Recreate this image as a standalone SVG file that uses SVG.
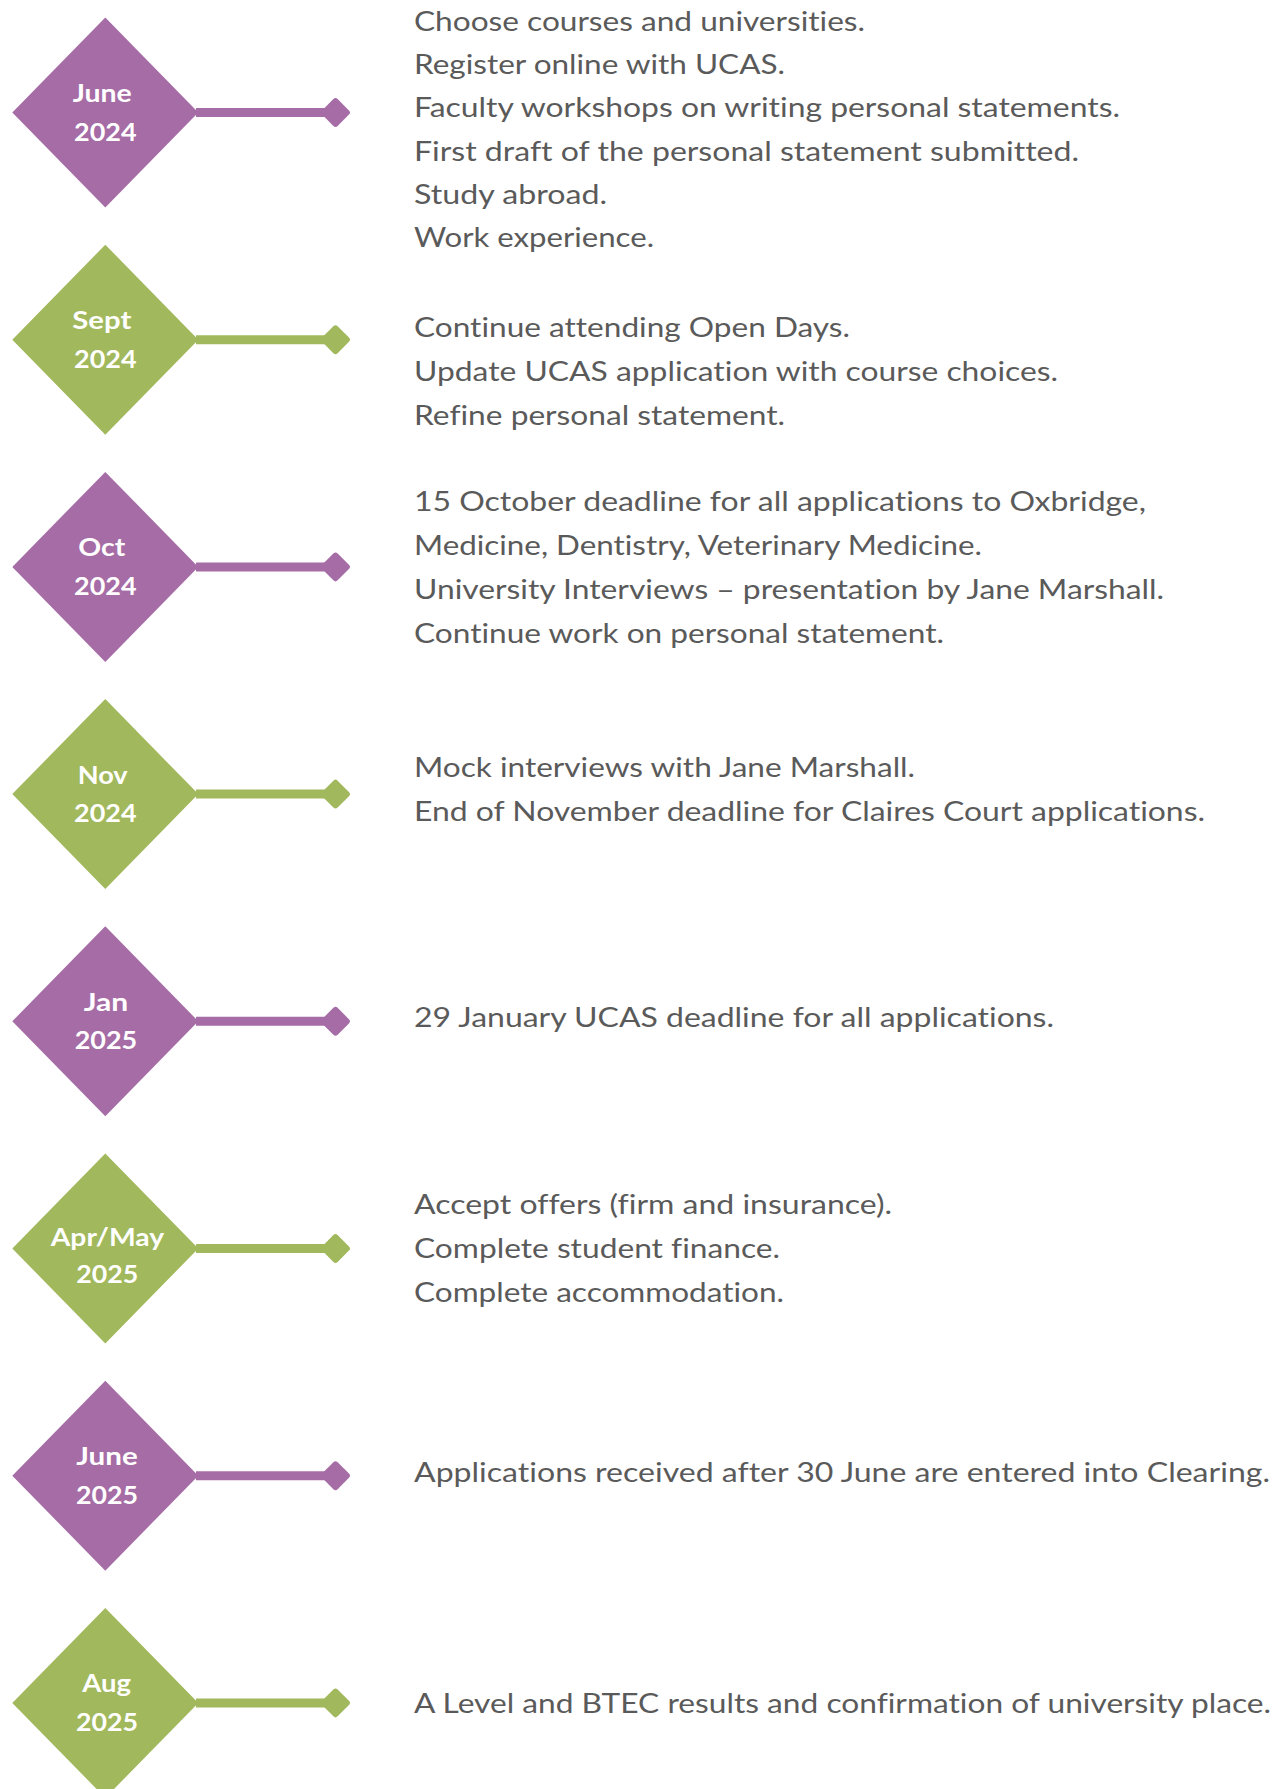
<svg xmlns="http://www.w3.org/2000/svg" width="1276" height="1789" viewBox="0 0 1276 1789">
<style>
.bg{fill:#ffffff}
.p{fill:#a66ca6}
.g{fill:#a2b85c}
.lp{stroke:#a66ca6;stroke-width:9;fill:none}
.lg{stroke:#a2b85c;stroke-width:9;fill:none}
.lbl{font-family:Lato,"Liberation Sans",sans-serif;font-weight:700;font-size:25px;fill:#ffffff;text-anchor:middle;font-variant-ligatures:none}
.t{font-family:Lato,"Liberation Sans",sans-serif;font-weight:400;font-size:27px;fill:#5a5a5a;font-variant-ligatures:none}
</style>
<defs>
<polygon id="dia" points="0,-95 93,0 0,95 -93,0"/>
<rect id="end" x="-11" y="-11" width="22" height="22" rx="3" transform="rotate(45)"/>
</defs>
<rect class="bg" x="0" y="0" width="1276" height="1789"/>
<g id="connectors">
<path class="lp" d="M196 112.5H334"/><use href="#end" class="p" x="335.5" y="112.5"/>
<path class="lg" d="M196 339.7H334"/><use href="#end" class="g" x="335.5" y="339.7"/>
<path class="lp" d="M196 566.9H334"/><use href="#end" class="p" x="335.5" y="566.9"/>
<path class="lg" d="M196 794.1H334"/><use href="#end" class="g" x="335.5" y="794.1"/>
<path class="lp" d="M196 1021.3H334"/><use href="#end" class="p" x="335.5" y="1021.3"/>
<path class="lg" d="M196 1248.5H334"/><use href="#end" class="g" x="335.5" y="1248.5"/>
<path class="lp" d="M196 1475.7H334"/><use href="#end" class="p" x="335.5" y="1475.7"/>
<path class="lg" d="M196 1702.9H334"/><use href="#end" class="g" x="335.5" y="1702.9"/>
</g>
<g id="node-june-2024">
<use href="#dia" class="p" x="105.3" y="112.5"/>
<text class="lbl" x="102.3" y="102" textLength="59" lengthAdjust="spacingAndGlyphs">June</text>
<text class="lbl" x="105.3" y="140.5" textLength="62.5" lengthAdjust="spacingAndGlyphs">2024</text>
<text class="t" x="414" y="31" textLength="451" lengthAdjust="spacingAndGlyphs">Choose courses and universities.</text>
<text class="t" x="414" y="74" textLength="371" lengthAdjust="spacingAndGlyphs">Register online with UCAS.</text>
<text class="t" x="414" y="117.3" textLength="706" lengthAdjust="spacingAndGlyphs">Faculty workshops on writing personal statements.</text>
<text class="t" x="414" y="160.5" textLength="665" lengthAdjust="spacingAndGlyphs">First draft of the personal statement submitted.</text>
<text class="t" x="414" y="203.5" textLength="193" lengthAdjust="spacingAndGlyphs">Study abroad.</text>
<text class="t" x="414" y="246.7" textLength="240" lengthAdjust="spacingAndGlyphs">Work experience.</text>
</g>
<g id="node-sept-2024">
<use href="#dia" class="g" x="105.3" y="339.7"/>
<text class="lbl" x="101.8" y="329" textLength="59" lengthAdjust="spacingAndGlyphs">Sept</text>
<text class="lbl" x="105.3" y="367.5" textLength="62.5" lengthAdjust="spacingAndGlyphs">2024</text>
<text class="t" x="414" y="336.7" textLength="436" lengthAdjust="spacingAndGlyphs">Continue attending Open Days.</text>
<text class="t" x="414" y="380.7" textLength="644" lengthAdjust="spacingAndGlyphs">Update UCAS application with course choices.</text>
<text class="t" x="414" y="425" textLength="371" lengthAdjust="spacingAndGlyphs">Refine personal statement.</text>
</g>
<g id="node-oct-2024">
<use href="#dia" class="p" x="105.3" y="566.9"/>
<text class="lbl" x="101.8" y="556.4" textLength="47" lengthAdjust="spacingAndGlyphs">Oct</text>
<text class="lbl" x="105.3" y="594.9" textLength="62.5" lengthAdjust="spacingAndGlyphs">2024</text>
<text class="t" x="414" y="511" textLength="732" lengthAdjust="spacingAndGlyphs">15 October deadline for all applications to Oxbridge,</text>
<text class="t" x="414" y="555" textLength="568" lengthAdjust="spacingAndGlyphs">Medicine, Dentistry, Veterinary Medicine.</text>
<text class="t" x="414" y="599" textLength="750" lengthAdjust="spacingAndGlyphs">University Interviews – presentation by Jane Marshall.</text>
<text class="t" x="414" y="642.7" textLength="530" lengthAdjust="spacingAndGlyphs">Continue work on personal statement.</text>
</g>
<g id="node-nov-2024">
<use href="#dia" class="g" x="105.3" y="794.1"/>
<text class="lbl" x="102.7" y="783.6" textLength="50" lengthAdjust="spacingAndGlyphs">Nov</text>
<text class="lbl" x="105.3" y="822.1" textLength="62.5" lengthAdjust="spacingAndGlyphs">2024</text>
<text class="t" x="414" y="776.7" textLength="501" lengthAdjust="spacingAndGlyphs">Mock interviews with Jane Marshall.</text>
<text class="t" x="414" y="821" textLength="791" lengthAdjust="spacingAndGlyphs">End of November deadline for Claires Court applications.</text>
</g>
<g id="node-jan-2025">
<use href="#dia" class="p" x="105.3" y="1021.3"/>
<text class="lbl" x="106" y="1010.8" textLength="44.5" lengthAdjust="spacingAndGlyphs">Jan</text>
<text class="lbl" x="106" y="1049.3" textLength="62.5" lengthAdjust="spacingAndGlyphs">2025</text>
<text class="t" x="414" y="1027" textLength="640" lengthAdjust="spacingAndGlyphs">29 January UCAS deadline for all applications.</text>
</g>
<g id="node-aprmay-2025">
<use href="#dia" class="g" x="105.3" y="1248.5"/>
<text class="lbl" x="107.5" y="1246" textLength="113.5" lengthAdjust="spacingAndGlyphs">Apr/May</text>
<text class="lbl" x="107.3" y="1282.5" textLength="62" lengthAdjust="spacingAndGlyphs">2025</text>
<text class="t" x="414" y="1214.3" textLength="478" lengthAdjust="spacingAndGlyphs">Accept offers (firm and insurance).</text>
<text class="t" x="414" y="1258.3" textLength="366" lengthAdjust="spacingAndGlyphs">Complete student finance.</text>
<text class="t" x="414" y="1301.7" textLength="370" lengthAdjust="spacingAndGlyphs">Complete accommodation.</text>
</g>
<g id="node-june-2025">
<use href="#dia" class="p" x="105.3" y="1475.7"/>
<text class="lbl" x="107" y="1465.2" textLength="61.5" lengthAdjust="spacingAndGlyphs">June</text>
<text class="lbl" x="107" y="1503.7" textLength="62" lengthAdjust="spacingAndGlyphs">2025</text>
<text class="t" x="414" y="1481.7" textLength="856" lengthAdjust="spacingAndGlyphs">Applications received after 30 June are entered into Clearing.</text>
</g>
<g id="node-aug-2025">
<use href="#dia" class="g" x="105.3" y="1702.9"/>
<text class="lbl" x="106.7" y="1692" textLength="48.7" lengthAdjust="spacingAndGlyphs">Aug</text>
<text class="lbl" x="107" y="1730.5" textLength="62" lengthAdjust="spacingAndGlyphs">2025</text>
<text class="t" x="414" y="1712.7" textLength="857" lengthAdjust="spacingAndGlyphs">A Level and BTEC results and confirmation of university place.</text>
</g>
</svg>
